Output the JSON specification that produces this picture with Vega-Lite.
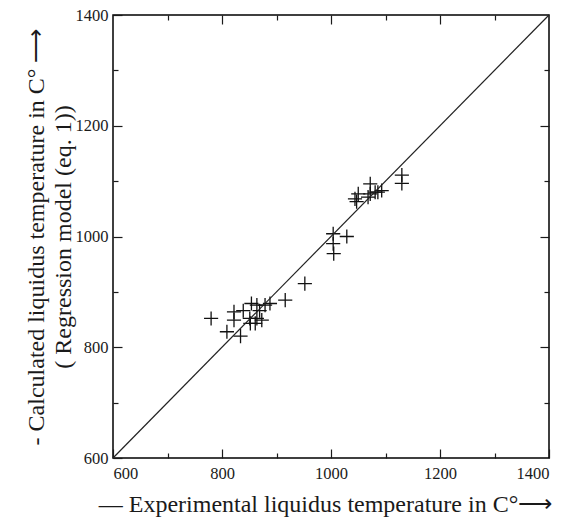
{
  "$schema": "https://vega.github.io/schema/vega-lite/v6.json",
  "width": 436,
  "height": 443,
  "autosize": {"type": "none"},
  "padding": {"left": 113, "top": 15, "right": 17, "bottom": 61},
  "background": "white",
  "config": {
    "view": {"stroke": "black", "strokeWidth": 1.5},
    "font": "Liberation Serif",
    "axis": {
      "grid": false,
      "domain": false,
      "labelFont": "Liberation Serif",
      "labelFontSize": 16.5,
      "labelColor": "#1a1a1a",
      "titleFont": "Liberation Serif",
      "titleFontSize": 24,
      "titleFontWeight": "normal",
      "titleColor": "#1a1a1a",
      "tickColor": "#1a1a1a",
      "tickWidth": 1.2
    }
  },
  "datasets": {
    "pts": [
      {"exp": 780, "calc": 852},
      {"exp": 809, "calc": 828},
      {"exp": 834, "calc": 820},
      {"exp": 822, "calc": 864},
      {"exp": 822, "calc": 849},
      {"exp": 839, "calc": 866},
      {"exp": 854, "calc": 879},
      {"exp": 851, "calc": 852},
      {"exp": 864, "calc": 876},
      {"exp": 864, "calc": 852},
      {"exp": 873, "calc": 849},
      {"exp": 879, "calc": 876},
      {"exp": 888, "calc": 879},
      {"exp": 861, "calc": 843},
      {"exp": 852, "calc": 843},
      {"exp": 869, "calc": 866},
      {"exp": 916, "calc": 885},
      {"exp": 952, "calc": 915},
      {"exp": 1004, "calc": 1005},
      {"exp": 1029, "calc": 1000},
      {"exp": 1004, "calc": 987},
      {"exp": 1005, "calc": 969},
      {"exp": 1044, "calc": 1068},
      {"exp": 1047, "calc": 1063},
      {"exp": 1050, "calc": 1077},
      {"exp": 1072, "calc": 1095},
      {"exp": 1072, "calc": 1077},
      {"exp": 1068, "calc": 1071},
      {"exp": 1081, "calc": 1080},
      {"exp": 1086, "calc": 1080},
      {"exp": 1093, "calc": 1083},
      {"exp": 1130, "calc": 1111},
      {"exp": 1130, "calc": 1096}
    ],
    "diag": [
      {"exp": 600, "calc": 600},
      {"exp": 1400, "calc": 1400}
    ]
  },
  "layer": [
    {
      "data": {"name": "pts"},
      "mark": {"type": "point", "shape": "M-1,0H1M0,-1V1", "filled": false, "stroke": "#111", "strokeWidth": 1.3, "size": 200, "opacity": 1},
      "encoding": {
        "x": {
          "field": "exp", "type": "quantitative",
          "scale": {"domain": [600, 1400], "nice": false, "zero": false},
          "axis": {
            "orient": "bottom",
            "values": [600, 700, 800, 900, 1000, 1100, 1200, 1300, 1400],
            "labelExpr": "datum.value % 200 === 0 ? datum.label : ''",
            "format": "d",
            "tickSize": {"condition": {"test": "datum.value % 200 === 0", "value": -9}, "value": -5},
            "labelPadding": 16,
            "title": "— Experimental liquidus temperature in C°⟶",
            "titlePadding": 11,
            "titleX": 212
          }
        },
        "y": {
          "field": "calc", "type": "quantitative",
          "scale": {"domain": [600, 1400], "nice": false, "zero": false},
          "axis": {
            "orient": "left",
            "values": [600, 700, 800, 900, 1000, 1100, 1200, 1300, 1400],
            "labelExpr": "datum.value % 200 === 0 ? datum.label : ''",
            "format": "d",
            "tickSize": {"condition": {"test": "datum.value % 200 === 0", "value": -9}, "value": -5},
            "labelPadding": 14,
            "title": ["- Calculated liquidus temperature in C° ⟶", "( Regression model (eq. 1))"],
            "titlePadding": 0,
            "titleLineHeight": 27
          }
        }
      }
    },
    {
      "data": {"name": "diag"},
      "mark": {"type": "line", "stroke": "#222", "strokeWidth": 1.2},
      "encoding": {
        "x": {
          "field": "exp", "type": "quantitative",
          "scale": {"domain": [600, 1400], "nice": false, "zero": false},
          "axis": {
            "orient": "top",
            "values": [700, 800, 900, 1000, 1100, 1200, 1300],
            "labels": false,
            "title": null,
            "tickSize": {"condition": {"test": "datum.value % 200 === 0", "value": -9}, "value": -5}
          }
        },
        "y": {
          "field": "calc", "type": "quantitative",
          "scale": {"domain": [600, 1400], "nice": false, "zero": false},
          "axis": {
            "orient": "right",
            "values": [700, 800, 900, 1000, 1100, 1200, 1300],
            "labels": false,
            "title": null,
            "tickSize": {"condition": {"test": "datum.value % 200 === 0", "value": -9}, "value": -5}
          }
        }
      }
    }
  ],
  "resolve": {"axis": {"x": "independent", "y": "independent"}}
}
